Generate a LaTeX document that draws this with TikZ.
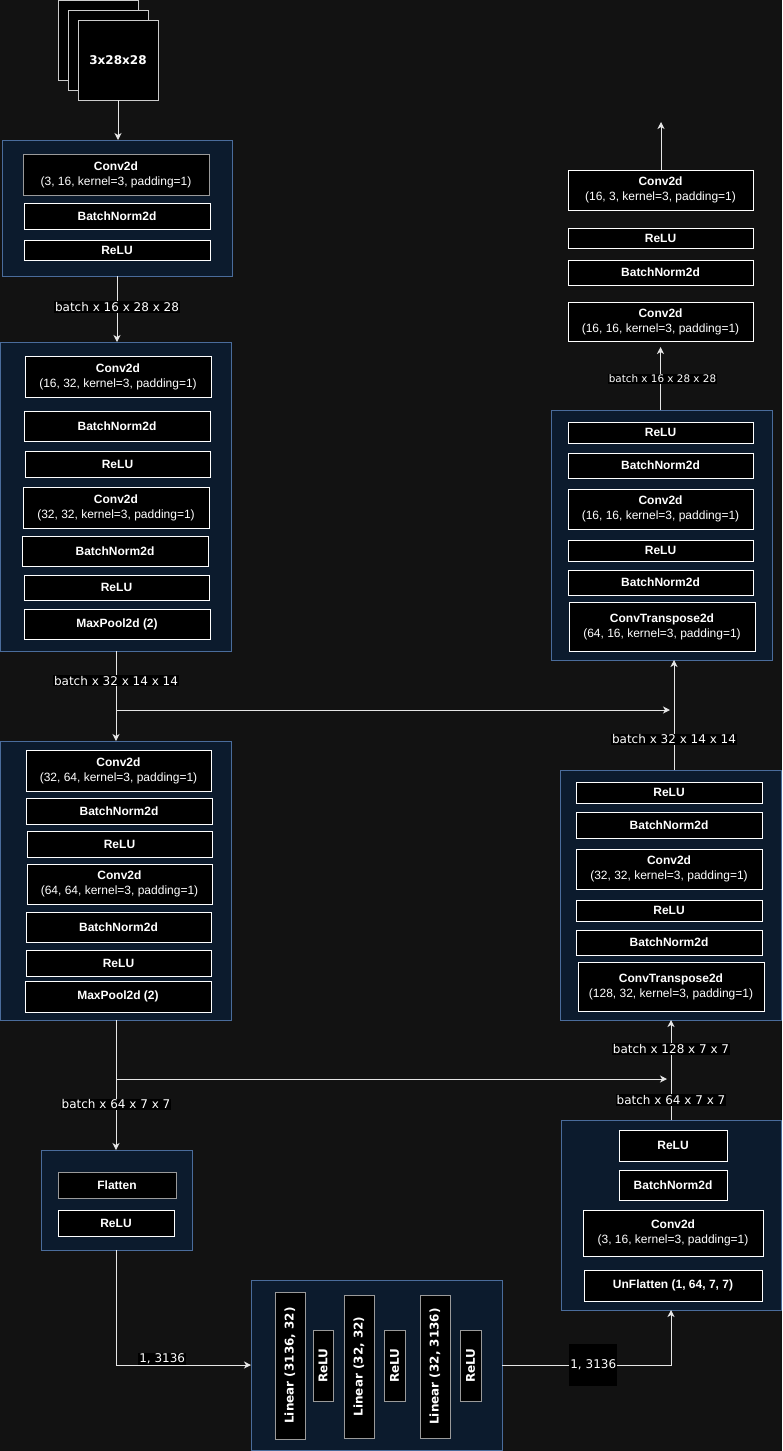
\documentclass[tikz,border=0pt]{standalone}
\usepackage{fontspec}
\setmainfont{Liberation Sans}
\newfontfamily\dejavu{DejaVu Sans}
\usetikzlibrary{arrows.meta}
\definecolor{bgcol}{HTML}{121212}
\definecolor{blkfill}{HTML}{0C1B2D}
\definecolor{blkline}{HTML}{4A6C9B}
\definecolor{edgecol}{HTML}{E6E6E6}
\definecolor{graybd}{HTML}{9A9A9A}
\tikzset{
  blk/.style={draw=blkline, fill=blkfill, line width=1pt, inner sep=0pt, outer sep=0pt, anchor=north west},
  lay/.style={draw=white, fill=black, line width=1pt, text=white, inner sep=0pt, outer sep=0pt,
    anchor=north west, align=center, font=\bfseries\fontsize{12}{15}\selectfont},
  graylay/.style={lay, draw=graybd},
  inbox/.style={lay, draw=white!80!black, font=\dejavu\bfseries\fontsize{12}{14}\selectfont},
  vlay/.style={draw=graybd, fill=black, line width=1pt, text=white, inner sep=0pt, outer sep=0pt,
    rotate=90, font=\dejavu\bfseries\fontsize{12}{14}\selectfont},
  arr/.style={draw=edgecol, line width=1pt, -{Stealth[length=7pt,width=7pt,inset=2pt]}},
  elabel/.style={fill=black, text=white, inner sep=1pt, font=\dejavu\fontsize{12}{14}\selectfont},
  smalllabel/.style={elabel, font=\dejavu\fontsize{10.4}{12}\selectfont},
}
\newcommand\bx[7]{\node[#1, minimum width={(#4-#2)*1pt}, minimum height={(#5-#3)*1pt}] (#6) at (#2,#3) {#7};}
\newcommand\vbx[7]{\node[#1, minimum width={(#5-#3)*1pt}, minimum height={(#4-#2)*1pt}] (#6) at ({(#2+#4)/2},{(#3+#5)/2}) {#7};}
\newcommand\prm[1]{\\\mdseries #1}
\begin{document}
\begin{tikzpicture}[x=1pt,y=-1pt]
\fill[bgcol] (0,0) rectangle (782,1451);
\path[use as bounding box] (0,0) rectangle (782,1451);

% input stack
\bx{inbox}{58}{0}{138}{80}{in1}{}
\bx{inbox}{68}{10}{148}{90}{in2}{}
\bx{inbox}{78}{20}{158}{100}{in3}{3x28x28}

% block 1
\bx{blk}{2}{140}{232}{276}{b1}{}
\bx{graylay}{23}{154}{209}{195}{b1c}{Conv2d\prm{(3, 16, kernel=3, padding=1)}}
\bx{lay}{24}{203}{210}{229}{b1n}{BatchNorm2d}
\bx{lay}{24}{240}{210}{260}{b1r}{ReLU}

% block 2
\bx{blk}{0}{342}{231}{651}{b2}{}
\bx{lay}{25}{356}{211}{397}{b2c1}{Conv2d\prm{(16, 32, kernel=3, padding=1)}}
\bx{lay}{24}{411}{210}{441}{b2n1}{BatchNorm2d}
\bx{lay}{25}{451}{210}{477}{b2r1}{ReLU}
\bx{lay}{23}{487}{209}{528}{b2c2}{Conv2d\prm{(32, 32, kernel=3, padding=1)}}
\bx{lay}{22}{536}{208}{566}{b2n2}{BatchNorm2d}
\bx{lay}{24}{575}{209}{600}{b2r2}{ReLU}
\bx{lay}{24}{609}{210}{639}{b2m}{MaxPool2d (2)}

% block 3
\bx{blk}{0}{741}{231}{1020}{b3}{}
\bx{lay}{26}{750}{211}{791}{b3c1}{Conv2d\prm{(32, 64, kernel=3, padding=1)}}
\bx{lay}{26}{798}{212}{824}{b3n1}{BatchNorm2d}
\bx{lay}{27}{831}{212}{857}{b3r1}{ReLU}
\bx{lay}{27}{864}{212}{904}{b3c2}{Conv2d\prm{(64, 64, kernel=3, padding=1)}}
\bx{lay}{26}{912}{211}{942}{b3n2}{BatchNorm2d}
\bx{lay}{26}{950}{211}{976}{b3r2}{ReLU}
\bx{lay}{25}{981}{211}{1012}{b3m}{MaxPool2d (2)}

% flatten block
\bx{blk}{41}{1150}{192}{1250}{fl}{}
\bx{graylay}{58}{1172}{176}{1198}{flf}{Flatten}
\bx{lay}{58}{1210}{174}{1236}{flr}{ReLU}

% linear block
\bx{blk}{251}{1280}{502}{1450}{lin}{}
\vbx{vlay}{275}{1292}{305}{1439}{l1}{Linear (3136, 32)}
\vbx{vlay}{313}{1330}{333}{1401}{r1}{ReLU}
\vbx{vlay}{344}{1295}{374}{1438}{l2}{Linear (32, 32)}
\vbx{vlay}{384}{1330}{405}{1401}{r2}{ReLU}
\vbx{vlay}{420}{1295}{450}{1438}{l3}{Linear (32, 3136)}
\vbx{vlay}{460}{1330}{481}{1401}{r3}{ReLU}

% unflatten block
\bx{blk}{561}{1120}{781}{1310}{uf}{}
\bx{lay}{619}{1130}{727}{1161}{ufr}{ReLU}
\bx{lay}{619}{1170}{727}{1200}{ufn}{BatchNorm2d}
\bx{lay}{583}{1210}{763}{1256}{ufc}{Conv2d\prm{(3, 16, kernel=3, padding=1)}}
\bx{lay}{584}{1270}{762}{1301}{ufu}{UnFlatten (1, 64, 7, 7)}

% convtranspose block 1
\bx{blk}{560}{770}{781}{1020}{ct1}{}
\bx{lay}{576}{782}{762}{803}{ct1r1}{ReLU}
\bx{lay}{576}{812}{762}{838}{ct1n1}{BatchNorm2d}
\bx{lay}{576}{849}{762}{889}{ct1c}{Conv2d\prm{(32, 32, kernel=3, padding=1)}}
\bx{lay}{576}{900}{762}{921}{ct1r2}{ReLU}
\bx{lay}{576}{930}{762}{955}{ct1n2}{BatchNorm2d}
\bx{lay}{578}{962}{764}{1011}{ct1t}{ConvTranspose2d\prm{(128, 32, kernel=3, padding=1)}}

% convtranspose block 2
\bx{blk}{551}{410}{772}{660}{ct2}{}
\bx{lay}{568}{422}{753}{443}{ct2r1}{ReLU}
\bx{lay}{568}{453}{753}{478}{ct2n1}{BatchNorm2d}
\bx{lay}{568}{489}{753}{529}{ct2c}{Conv2d\prm{(16, 16, kernel=3, padding=1)}}
\bx{lay}{568}{540}{753}{561}{ct2r2}{ReLU}
\bx{lay}{568}{570}{753}{595}{ct2n2}{BatchNorm2d}
\bx{lay}{569}{602}{755}{651}{ct2t}{ConvTranspose2d\prm{(64, 16, kernel=3, padding=1)}}

% output stack
\bx{lay}{568}{302}{753}{341}{oc1}{Conv2d\prm{(16, 16, kernel=3, padding=1)}}
\bx{lay}{568}{260}{753}{285}{on}{BatchNorm2d}
\bx{lay}{568}{228}{753}{248}{orl}{ReLU}
\bx{lay}{568}{170}{753}{210}{oc2}{Conv2d\prm{(16, 3, kernel=3, padding=1)}}

% coordinates
\coordinate (out) at (661,122);
\coordinate (s1) at (116,710);
\coordinate (s1e) at (670,710);
\coordinate (j1) at (674,710);
\coordinate (s2) at (116,1079);
\coordinate (s2e) at (667,1079);
\coordinate (j2) at (671,1079);

% connectors
\draw[arr] (in3.south) -- (in3.south |- b1.north);
\draw[arr] (b1.south) -- (b1.south |- b2.north) node[elabel, pos=0.47] {batch x 16 x 28 x 28};
\draw[arr] (b2.south -| s1) -- (b3.north -| s1) node[elabel, pos=0.33] {batch x 32 x 14 x 14};
\draw[arr] (s1) -- (s1e);
\draw[arr] (b3.south -| s2) -- (fl.north -| s2) node[elabel, pos=0.65] {batch x 64 x 7 x 7};
\draw[arr] (s2) -- (s2e);
\draw[arr] (fl.south) |- (lin.west) node[elabel, pos=0.67, yshift=6pt] {1, 3136};
\draw[arr] (lin.east) -| (uf.south) node[elabel, pos=0.27, minimum width=47pt, minimum height=42pt] {1, 3136};
\draw[arr] (uf.north -| j2) -- (ct1.south -| j2)
  node[elabel, pos=0.2] {batch x 64 x 7 x 7}
  node[elabel, pos=0.71] {batch x 128 x 7 x 7};
\draw[arr] (ct1.north -| j1) -- (ct2.south -| j1) node[elabel, pos=0.28] {batch x 32 x 14 x 14};
\draw[arr, shorten >=6pt] (ct2.north -| oc1.south) -- (oc1.south) node[smalllabel, pos=0.45, xshift=2pt] {batch x 16 x 28 x 28};
\draw[arr] (oc2.north -| out) -- (out);
\end{tikzpicture}
\end{document}
